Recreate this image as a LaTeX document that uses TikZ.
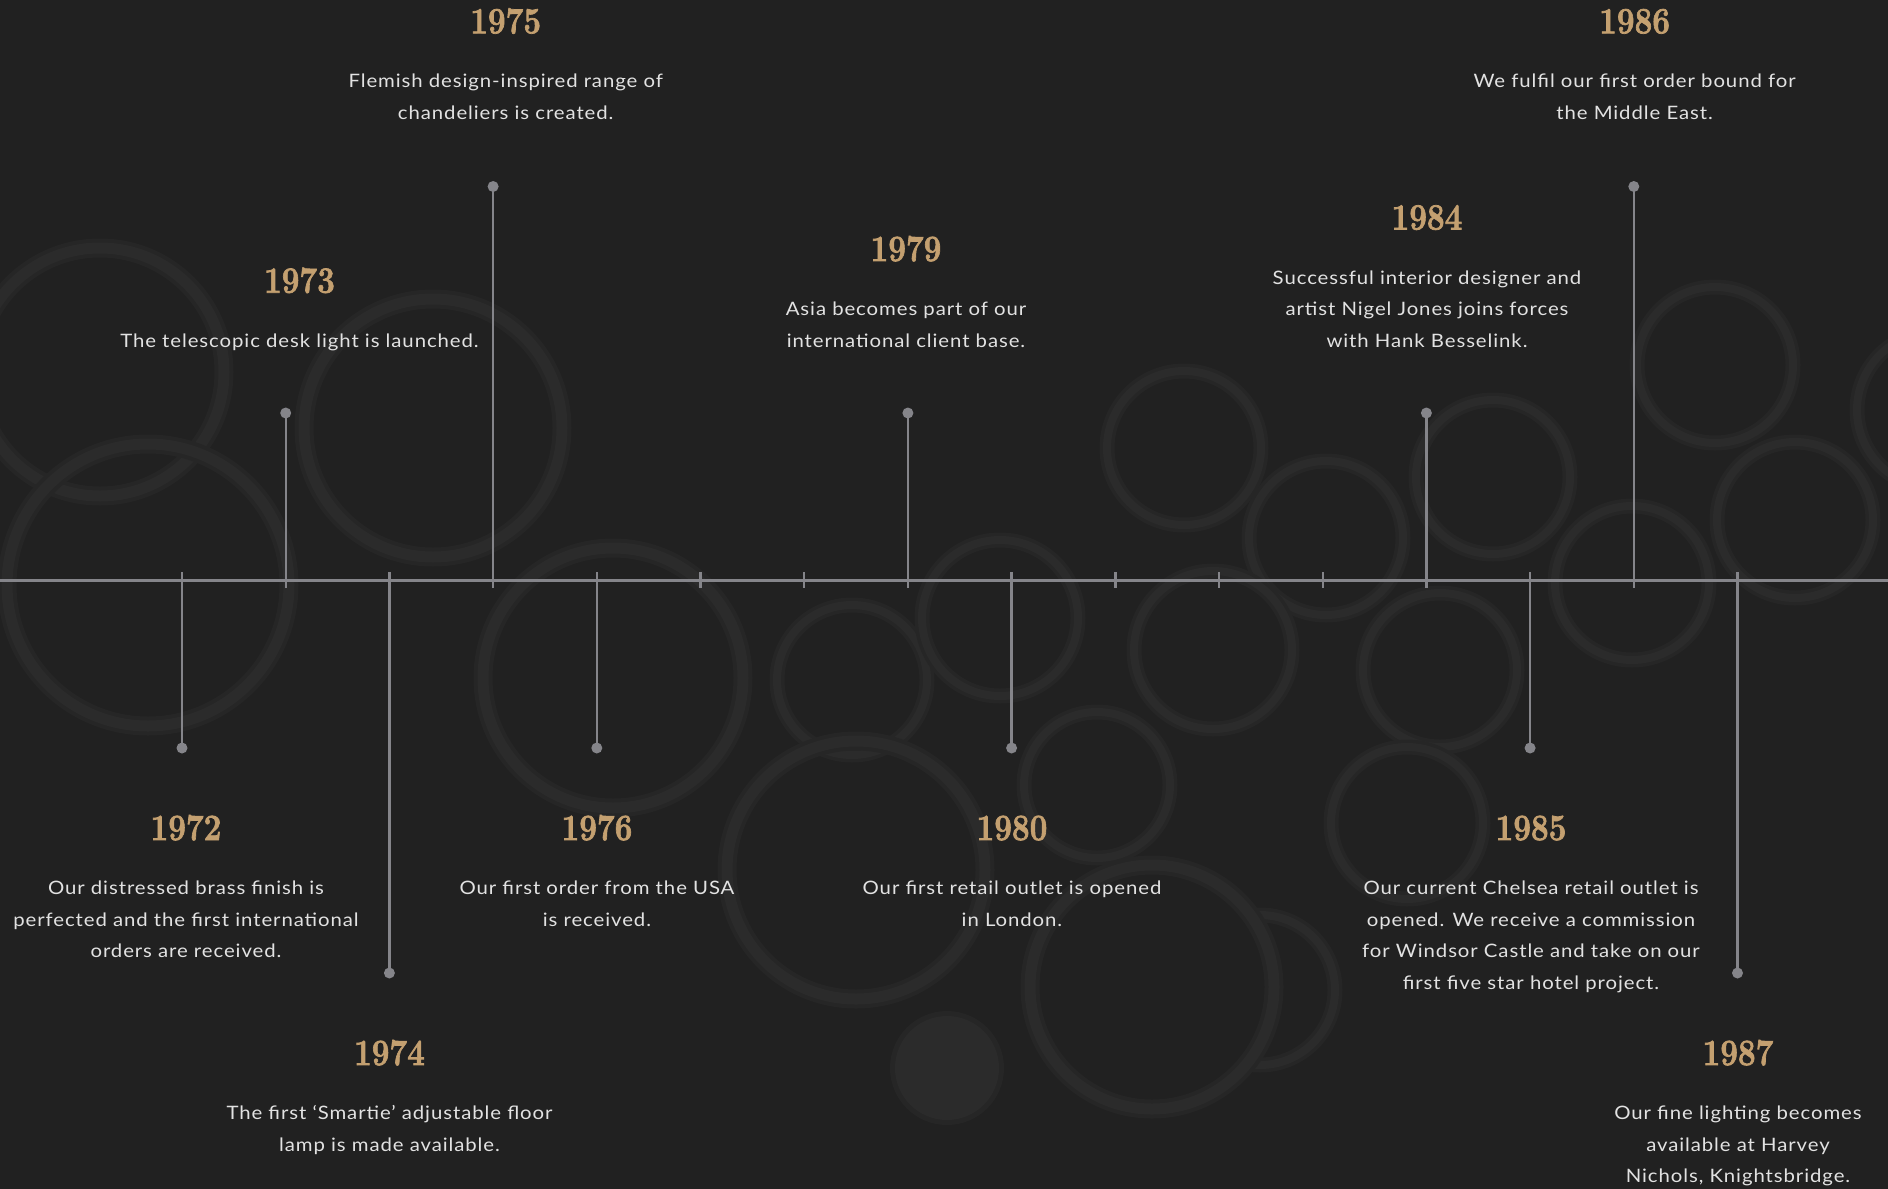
\documentclass[tikz,border=0pt]{standalone}
\usepackage{fontspec}
\usepackage{graphicx}
\newfontfamily\bodyfont[FakeStretch=1.1,LetterSpace=5]{Lato}
\newfontfamily\yearfont[BoldFeatures={FakeBold=2}]{Latin Modern Roman}
\definecolor{bg}{HTML}{212121}
\definecolor{ringc}{HTML}{2B2B2B}
\definecolor{ringsoft}{HTML}{262626}
\definecolor{gold}{HTML}{C4A070}
\definecolor{txt}{HTML}{E2E2E2}
\definecolor{axis}{HTML}{85858A}
\newcommand\yr[1]{\scalebox{0.85}[1]{#1}}
\begin{document}
\begin{tikzpicture}[x=1pt,y=-1pt,
  yearlbl/.style={text=gold, font=\fontsize{37}{37}\selectfont\yearfont\bfseries, anchor=base, inner sep=0pt},
  desc/.style={text=txt, font=\fontsize{18.5}{31.7}\selectfont\bodyfont, align=center, anchor=base, inner sep=0pt},
  stem/.style={draw=axis, line width=2.4pt},
  tickm/.style={draw=axis, line width=2.4pt},
  dotm/.style={circle, fill=axis, inner sep=0pt, minimum size=11pt},
  bigring/.style={preaction={draw=ringsoft, line width=19pt}, draw=ringc, line width=11pt},
  smallring/.style={preaction={draw=ringsoft, line width=15pt}, draw=ringc, line width=8pt}]
\useasboundingbox (0,0) rectangle (1888,1189);
\fill[bg] (0,0) rectangle (1888,1189);
% background rings
\draw[bigring] (100,372) circle[radius=124];
\draw[bigring] (148,585) circle[radius=141];
\draw[bigring] (433,428) circle[radius=129];
\draw[bigring] (613,678) circle[radius=130];
\draw[smallring] (852,680) circle[radius=75];
\draw[bigring] (856,870) circle[radius=129];
\draw[smallring] (1000,618) circle[radius=78];
\draw[smallring] (1097,785) circle[radius=73];
\draw[smallring] (1260,990) circle[radius=75];
\fill[bg] (1152,987) circle[radius=122];
\draw[bigring] (1152,987) circle[radius=122];
\draw[smallring] (1184,448) circle[radius=77];
\draw[smallring] (1326,538) circle[radius=77];
\draw[smallring] (1213,650) circle[radius=79];
\draw[smallring] (1493,477) circle[radius=77];
\draw[smallring] (1440,670) circle[radius=77];
\draw[smallring] (1632,583) circle[radius=77];
\draw[smallring] (1407,823) circle[radius=76];
\draw[smallring] (1715,365) circle[radius=78];
\draw[smallring] (1795,520) circle[radius=78];
\draw[smallring] (1935,410) circle[radius=78];
\fill[ringsoft] (947,1068) circle[radius=57];
\fill[ringc] (947,1068) circle[radius=52];
% axis
\coordinate (L) at (0,580);
\coordinate (R) at (1888,580);
\draw[draw=axis, line width=3pt] (L) -- (R);
% small ticks
\foreach \i/\n in {5/a,6/b,9/c,10/d,11/e}{
  \coordinate (t\n1) at (182+103.7*\i,572);
  \coordinate (t\n2) at (182+103.7*\i,588);
  \draw[tickm] (t\n1) -- (t\n2);
}
% events: name / stem x / dot y / stem start y
\foreach \nm/\sx/\dy/\sy in {
  a/182/748/572,
  b/285.7/413/588,
  c/389.4/973/572,
  d/493.1/186.5/588,
  e/596.8/748/572,
  f/907.9/413/588,
  g/1011.6/748/572,
  h/1426.4/413/588,
  i/1530.1/748/572,
  j/1633.8/186.5/588,
  k/1737.5/973/572}{
  \coordinate (s\nm) at (\sx,\sy);
  \node[dotm] (p\nm) at (\sx,\dy) {};
  \draw[stem] (s\nm) -- (p\nm.center);
}
% years
\node[yearlbl] (ya) at (186,840) {\yr{1972}};
\node[yearlbl] (yb) at (299.5,292.7) {\yr{1973}};
\node[yearlbl] (yc) at (389.5,1065) {\yr{1974}};
\node[yearlbl] (yd) at (505.7,33.3) {\yr{1975}};
\node[yearlbl] (ye) at (597,840) {\yr{1976}};
\node[yearlbl] (yf) at (906,261) {\yr{1979}};
\node[yearlbl] (yg) at (1012,840) {\yr{1980}};
\node[yearlbl] (yh) at (1427,229.5) {\yr{1984}};
\node[yearlbl] (yi) at (1531,840) {\yr{1985}};
\node[yearlbl] (yj) at (1634.6,33.3) {\yr{1986}};
\node[yearlbl] (yk) at (1738,1065) {\yr{1987}};
% descriptions (anchor = baseline of the last line)
\node[desc] (da) at (186,957.9) {Our distressed brass finish is\\perfected and the first international\\orders are received.};
\node[desc] (db) at (299.5,347.2) {The telescopic desk light is launched.};
\node[desc] (dc) at (389.5,1151.2) {The first ‘Smartie’ adjustable floor\\lamp is made available.};
\node[desc] (dd) at (505.7,119.5) {Flemish design-inspired range of\\chandeliers is created.};
\node[desc] (de) at (597,926.2) {Our first order from the USA\\is received.};
\node[desc] (df) at (906,347.2) {Asia becomes part of our\\international client base.};
\node[desc] (dg) at (1012,926.2) {Our first retail outlet is opened\\in London.};
\node[desc] (dh) at (1427,347.4) {Successful interior designer and\\artist Nigel Jones joins forces\\with Hank Besselink.};
\node[desc] (di) at (1531,989.6) {Our current Chelsea retail outlet is\\opened. We receive a commission\\for Windsor Castle and take on our\\first five star hotel project.};
\node[desc] (dj) at (1634.6,119.5) {We fulfil our first order bound for\\the Middle East.};
\node[desc] (dk) at (1738,1182.9) {Our fine lighting becomes\\available at Harvey\\Nichols, Knightsbridge.};
\end{tikzpicture}
\end{document}
